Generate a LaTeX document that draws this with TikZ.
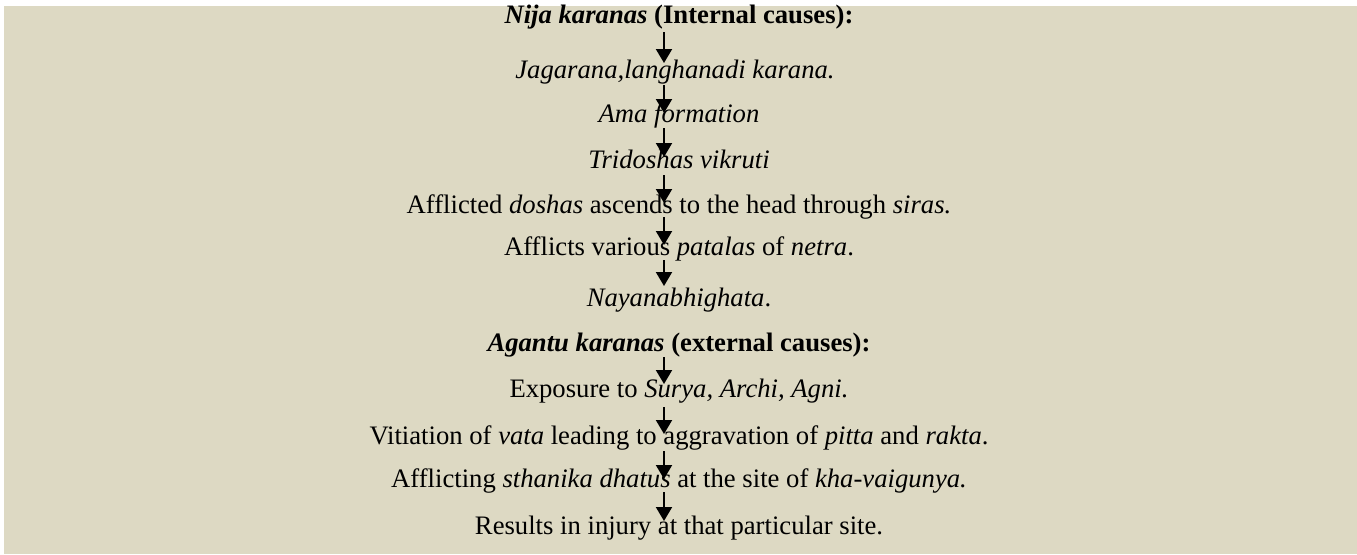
\documentclass[tikz,border=0pt]{standalone}
\usepackage{fontspec}
\setmainfont{Liberation Serif}
\usetikzlibrary{arrows.meta}
\definecolor{tanbg}{HTML}{DDD9C3}
\begin{document}
\begin{tikzpicture}[x=0.75pt,y=-0.75pt,
  txt/.style={anchor=base, inner sep=0pt, font=\fontsize{20}{24}\selectfont},
  arr/.style={line width=1.5pt, -{Triangle[length=10.5pt,width=12pt]}}]
\useasboundingbox (0,0) rectangle (1357,554);
\fill[tanbg] (4,6) rectangle (1357,554);
\coordinate (col) at (664,0);
\node[txt] (n1) at (679,23) {\textbf{\textit{Nija karanas} (Internal causes):}};
\node[txt] (n2) at (675,78) {\textit{Jagarana,langhanadi karana.}};
\node[txt] (n3) at (679,122) {\textit{Ama formation}};
\node[txt] (n4) at (679,168) {\textit{Tridoshas vikruti}};
\node[txt] (n5) at (679,213) {Afflicted \textit{doshas} ascends to the head through \textit{siras.}};
\node[txt] (n6) at (679,255) {Afflicts various \textit{patalas} of \textit{netra}.};
\node[txt] (n7) at (679,306) {\textit{Nayanabhighata}.};
\node[txt] (n8) at (679,351) {\textbf{\textit{Agantu karanas} (external causes):}};
\node[txt] (n9) at (679,397) {Exposure to \textit{Surya, Archi, Agni.}};
\node[txt] (n10) at (679,444) {Vitiation of \textit{vata} leading to aggravation of \textit{pitta} and \textit{rakta}.};
\node[txt] (n11) at (679,487) {Afflicting \textit{sthanika dhatus} at the site of \textit{kha-vaigunya.}};
\node[txt] (n12) at (679,534) {Results in injury at that particular site.};
\draw[arr] ([yshift=-6.75pt]n1.base -| col) -- ([yshift=11.25pt]n2.base -| col);
\draw[arr] ([yshift=-5.25pt]n2.base -| col) -- ([yshift=6.75pt]n3.base -| col);
\draw[arr] ([yshift=-4.5pt]n3.base -| col) -- ([yshift=8.25pt]n4.base -| col);
\draw[arr] ([yshift=-5.25pt]n4.base -| col) -- ([yshift=7.5pt]n5.base -| col);
\draw[arr] ([yshift=-3pt]n5.base -| col) -- ([yshift=7.5pt]n6.base -| col);
\draw[arr] ([yshift=-3.75pt]n6.base -| col) -- ([yshift=15pt]n7.base -| col);
\draw[arr] ([yshift=-4.5pt]n8.base -| col) -- ([yshift=9.75pt]n9.base -| col);
\draw[arr] ([yshift=-7.5pt]n9.base -| col) -- ([yshift=7.5pt]n10.base -| col);
\draw[arr] ([yshift=-5.25pt]n10.base -| col) -- ([yshift=6pt]n11.base -| col);
\draw[arr] ([yshift=-3.75pt]n11.base -| col) -- ([yshift=9.75pt]n12.base -| col);
\end{tikzpicture}
\end{document}
